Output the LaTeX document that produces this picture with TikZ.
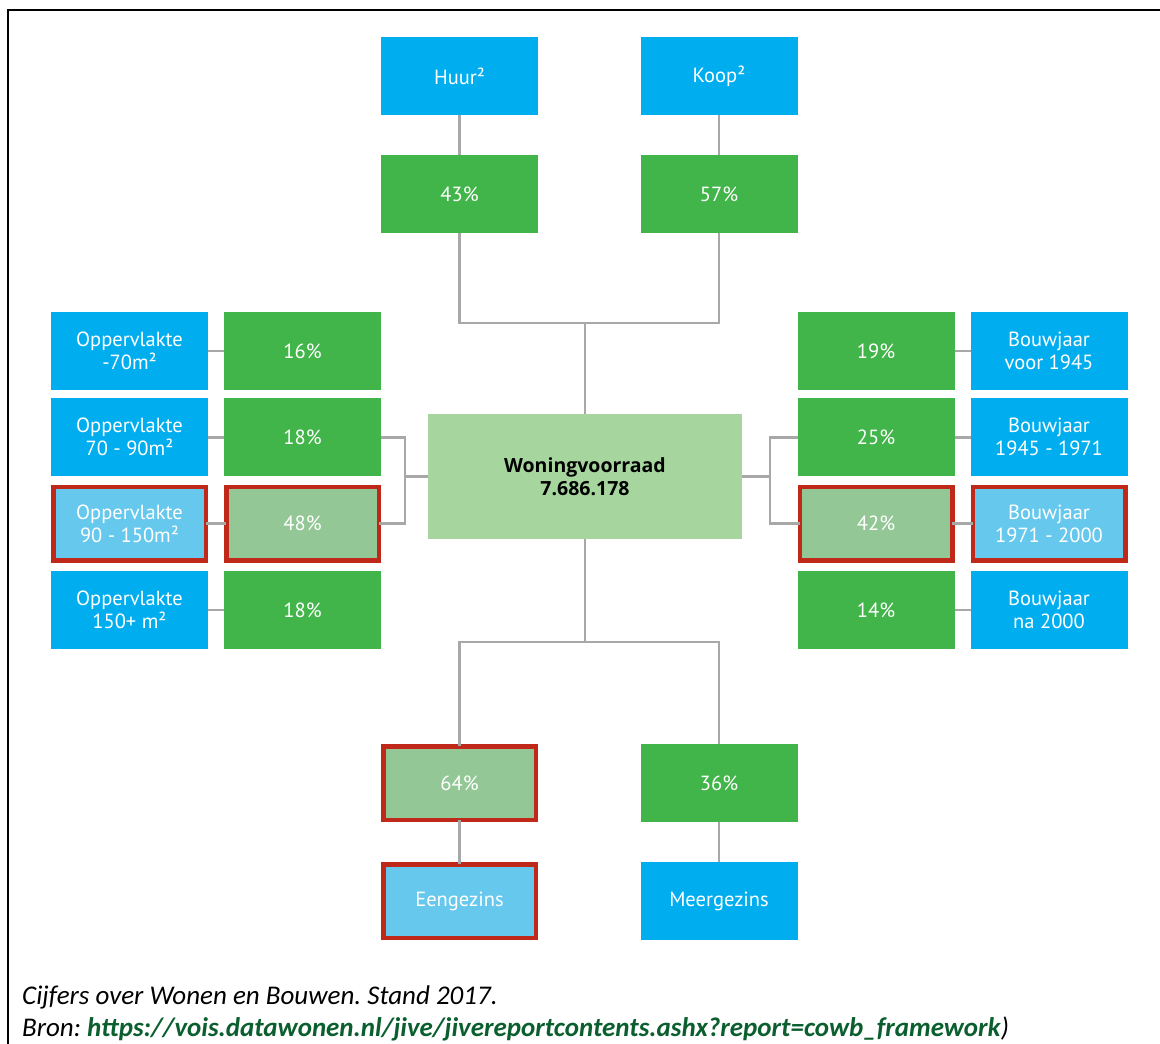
\documentclass[tikz,border=0pt]{standalone}
\usepackage{fontspec}
\newfontfamily\boxfont{PT Sans}
\newfontfamily\headfont{Open Sans}
\newfontfamily\capfont{Carlito}
\usetikzlibrary{calc}
\frenchspacing
\definecolor{catblue}{HTML}{00AEEF}
\definecolor{pctgreen}{HTML}{41B549}
\definecolor{stockgreen}{HTML}{A6D69E}
\definecolor{pickgreen}{HTML}{93C795}
\definecolor{pickblue}{HTML}{66C8EC}
\definecolor{pickred}{HTML}{C0291A}
\definecolor{wiregrey}{HTML}{A8A8A8}
\definecolor{urlgreen}{HTML}{0B5F2E}
\tikzstyle{boxstyle}=[inner sep=0pt,outer sep=0pt,minimum width=157pt,minimum height=78pt,align=center,text=white,font=\boxfont\fontsize{20.5}{23}\selectfont]
\tikzstyle{catstyle}=[boxstyle,fill=catblue]
\tikzstyle{pctstyle}=[boxstyle,fill=pctgreen]
\tikzstyle{pickstyle}=[draw=pickred,line width=4.5pt,minimum width=152.5pt,minimum height=73.5pt]
\tikzstyle{wirestyle}=[draw=wiregrey,line width=2.5pt]

\begin{document}
\begin{tikzpicture}[x=1pt,y=-1pt]

      % picture size and frame
      \useasboundingbox (0,0) rectangle (1160,1044);
      \draw[line width=2.5pt] (8,1044) -- (8,10) -- (1160,10);

      % columns and rows of the boxes
      \def\colA{129.5} % left categories
      \def\colB{302.5} % left percentages
      \def\colC{876}   % right percentages
      \def\colD{1049}  % right categories
      \def\colL{459.5} % huur / eengezins
      \def\colR{719}   % koop / meergezins
      \def\rowgap{86.3}

      % centre box
      \node[boxstyle,fill=stockgreen,text=black,minimum width=314pt,minimum height=125pt,
            font=\headfont\bfseries\fontsize{19.5}{23}\selectfont] at (585,476.5) (stock) {Woningvoorraad\\7.686.178};

      % top column
      \node[catstyle] at (\colL,76) (huur) {Huur²};
      \node[catstyle] at (\colR,76) (koop) {Koop²};
      \node[pctstyle] at (\colL,194) (p43) {43\%};
      \node[pctstyle] at (\colR,194) (p57) {57\%};

      % left columns
      \node[catstyle] at (\colA,351) (opp1) {Oppervlakte\\-70m²};
      \node[catstyle] at (\colA,351+\rowgap) (opp2) {Oppervlakte\\70 - 90m²};
      \node[catstyle,pickstyle,fill=pickblue] at (\colA,351+2*\rowgap) (opp3) {Oppervlakte\\90 - 150m²};
      \node[catstyle] at (\colA,351+3*\rowgap) (opp4) {Oppervlakte\\150+ m²};
      \node[pctstyle] at (\colB,351) (p16) {16\%};
      \node[pctstyle] at (\colB,351+\rowgap) (p18a) {18\%};
      \node[pctstyle,pickstyle,fill=pickgreen] at (\colB,351+2*\rowgap) (p48) {48\%};
      \node[pctstyle] at (\colB,351+3*\rowgap) (p18b) {18\%};

      % right columns
      \node[pctstyle] at (\colC,351) (p19) {19\%};
      \node[pctstyle] at (\colC,351+\rowgap) (p25) {25\%};
      \node[pctstyle,pickstyle,fill=pickgreen] at (\colC,351+2*\rowgap) (p42) {42\%};
      \node[pctstyle] at (\colC,351+3*\rowgap) (p14) {14\%};
      \node[catstyle] at (\colD,351) (bj1) {Bouwjaar\\voor 1945};
      \node[catstyle] at (\colD,351+\rowgap) (bj2) {Bouwjaar\\1945 - 1971};
      \node[catstyle,pickstyle,fill=pickblue] at (\colD,351+2*\rowgap) (bj3) {Bouwjaar\\1971 - 2000};
      \node[catstyle] at (\colD,351+3*\rowgap) (bj4) {Bouwjaar\\na 2000};

      % bottom column
      \node[pctstyle,pickstyle,fill=pickgreen] at (\colL,783) (p64) {64\%};
      \node[pctstyle] at (\colR,783) (p36) {36\%};
      \node[catstyle,pickstyle,fill=pickblue] at (\colL,901) (eengezins) {Eengezins};
      \node[catstyle] at (\colR,901) (meergezins) {Meergezins};

      % joints of the wires
      \coordinate (topjoin) at (585,323);
      \coordinate (botjoin) at (585,642);
      \coordinate (leftjoin) at (405,476.5);
      \coordinate (rightjoin) at (770,476.5);

      % Draw all wires
      \draw[wirestyle] (huur) -- (p43);
      \draw[wirestyle] (koop) -- (p57);
      \draw[wirestyle] (p43) |- (topjoin) -| (p57);
      \draw[wirestyle] (topjoin) -- (stock);
      \draw[wirestyle] (stock) -- (botjoin);
      \draw[wirestyle] (p64) |- (botjoin) -| (p36);
      \draw[wirestyle] (p64) -- (eengezins);
      \draw[wirestyle] (p36) -- (meergezins);
      \draw[wirestyle] (p18a) -| (leftjoin) |- (p48);
      \draw[wirestyle] (leftjoin) -- (stock);
      \draw[wirestyle] (p25) -| (rightjoin) |- (p42);
      \draw[wirestyle] (rightjoin) -- (stock);
      \draw[wirestyle] (opp1) -- (p16);
      \draw[wirestyle] (opp2) -- (p18a);
      \draw[wirestyle] (opp3) -- (p48);
      \draw[wirestyle] (opp4) -- (p18b);
      \draw[wirestyle] (p19) -- (bj1);
      \draw[wirestyle] (p25) -- (bj2);
      \draw[wirestyle] (p42) -- (bj3);
      \draw[wirestyle] (p14) -- (bj4);

      % source lines
      \node[anchor=base west,inner sep=0pt,font=\capfont\itshape\fontsize{27}{30}\selectfont] at (22,1004) (cite) {Cijfers over Wonen en Bouwen. Stand 2017.};
      \node[anchor=base west,inner sep=0pt,font=\capfont\itshape\fontsize{27}{30}\selectfont] at (22,1036) (source) {Bron: \textcolor{urlgreen}{\bfseries https://vois.datawonen.nl/jive/jivereportcontents.ashx?report=cowb\_framework})};

\end{tikzpicture}
\end{document}
